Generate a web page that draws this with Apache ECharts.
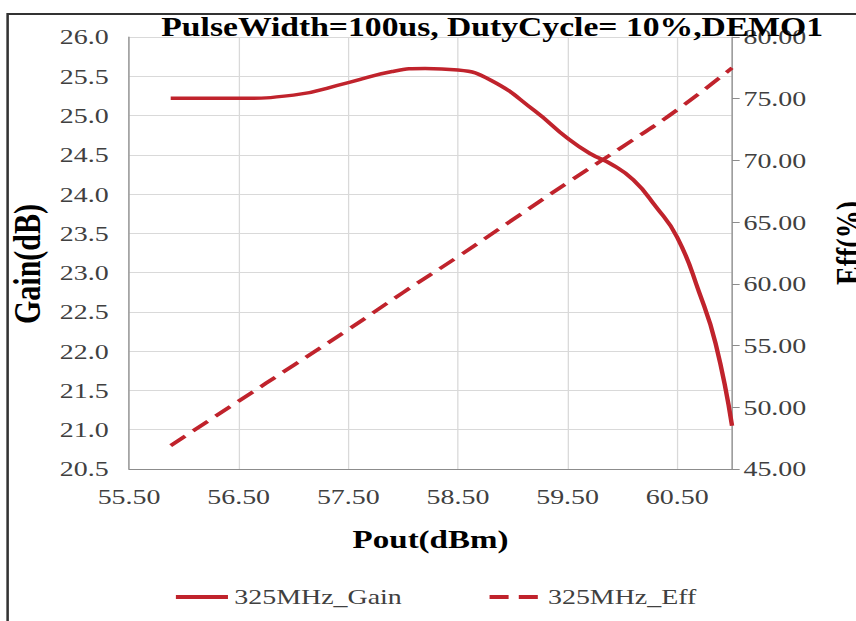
<!DOCTYPE html>
<html>
<head>
<meta charset="utf-8">
<script src="https://cdn.jsdelivr.net/npm/echarts@6/dist/echarts.min.js"></script>
<style>
  html, body { margin: 0; padding: 0; background: #fff; overflow: hidden; }
  /* the source picture is stretched sideways, so the chart is too */
  #chart { width: 674px; height: 621px; transform: scaleX(1.27); transform-origin: 0 0; }
</style>
</head>
<body>
<div id="chart"></div>
<script>
  // Pout (dBm) for each measured point
  var poutGain = [55.88, 56.5, 57.0, 57.5, 57.9, 58.2, 58.5, 58.8, 59.2, 59.5, 59.7, 59.9, 60.1, 60.3, 60.5, 60.7, 60.85, 61.0]
  var gain = [25.22, 25.22, 25.26, 25.42, 25.56, 25.60, 25.58, 25.45, 25.06, 24.71, 24.52, 24.38, 24.18, 23.85, 23.45, 22.75, 22.1, 21.05]
  var poutEff = [55.88, 56.5, 57.0, 57.5, 58.0, 58.5, 59.0, 59.5, 60.0, 60.5, 61.0]
  var eff = [46.9, 50.5, 53.4, 56.3, 59.3, 62.2, 65.2, 68.2, 71.1, 74.1, 77.5]

  var titleText = 'PulseWidth=100us, DutyCycle= 10%,DEMO1'
  var seriesNames = ['325MHz_Gain', '325MHz_Eff']

  var serif = 'Liberation Serif'
  var red = '#c0232c'

  function pairs(xs, ys) {
    return xs.map(function (x, i) { return [x, ys[i]] })
  }

  var chart = echarts.init(document.getElementById('chart'), null, { renderer: 'svg' })
  chart.setOption({
    animation: false,
    title: {
      text: titleText,
      left: 122,
      top: 9,
      textStyle: { fontFamily: serif, fontSize: 26.5, fontWeight: 'bold', color: '#000' }
    },
    legend: {
      data: seriesNames,
      left: 131.5,
      top: 581,
      itemWidth: 41,
      itemHeight: 14,
      itemGap: 67,
      itemStyle: { opacity: 0 },   // hide the dot, keep the line
      lineStyle: { width: 4 },
      textStyle: { fontFamily: serif, fontSize: 22, color: '#404040' }
    },
    grid: { left: 101.6, right: 97.6, top: 37, bottom: 152, outerBoundsMode: 'none' },
    xAxis: {
      type: 'value',
      min: 55.5,
      max: 61,
      interval: 1,
      name: 'Pout(dBm)',
      nameLocation: 'middle',
      nameGap: 57,
      nameTextStyle: { fontFamily: serif, fontSize: 26, fontWeight: 'bold', color: '#000' },
      axisLine: { lineStyle: { color: '#8c8c8c', width: 1 } },
      axisTick: { show: false },
      axisLabel: {
        margin: 17,
        showMaxLabel: false,
        fontFamily: serif, fontSize: 22, color: '#404040',
        formatter: function (v) { return v.toFixed(2) }
      },
      splitLine: { show: true, lineStyle: { color: '#d9d9d9', width: 1 } }
    },
    yAxis: [
      {
        type: 'value',
        min: 20.5,
        max: 26,
        interval: 0.5,
        name: 'Gain(dB)',
        nameLocation: 'middle',
        nameGap: 62,
        nameTextStyle: { fontFamily: serif, fontSize: 30, fontWeight: 'bold', color: '#000', padding: [0, 22, 0, 0] },
        axisLine: { show: true, lineStyle: { color: '#8c8c8c', width: 1 } },
        axisTick: { show: false },
        axisLabel: {
          margin: 16,
          fontFamily: serif, fontSize: 22, color: '#404040',
          formatter: function (v) { return v.toFixed(1) }
        },
        splitLine: { show: true, lineStyle: { color: '#d9d9d9', width: 1 } }
      },
      {
        type: 'value',
        position: 'right',
        min: 45,
        max: 80,
        interval: 5,
        name: 'Eff(%)',
        nameLocation: 'middle',
        nameRotate: 90,
        nameGap: 78,
        nameTextStyle: { fontFamily: serif, fontSize: 28, fontWeight: 'bold', color: '#000', padding: [0, 0, 0, 20] },
        axisLine: { show: true, lineStyle: { color: '#8c8c8c', width: 1 } },
        axisTick: { show: true, inside: false, length: 6, lineStyle: { color: '#8c8c8c' } },
        axisLabel: {
          margin: 9,
          fontFamily: serif, fontSize: 22, color: '#404040',
          formatter: function (v) { return v.toFixed(2) }
        },
        splitLine: { show: false }
      }
    ],
    graphic: [
      {
        type: 'rect',
        shape: { x: 6, y: 14, width: 720, height: 700 },
        style: { fill: 'none', stroke: '#333', lineWidth: 2 },
        silent: true
      }
    ],
    series: [
      {
        name: seriesNames[1],
        type: 'line',
        yAxisIndex: 1,
        data: pairs(poutEff, eff),
        smooth: true,
        symbol: 'none',
        lineStyle: { color: red, width: 3.5, type: [15, 8] },
        itemStyle: { color: red }
      },
      {
        name: seriesNames[0],
        type: 'line',
        yAxisIndex: 0,
        data: pairs(poutGain, gain),
        smooth: true,
        symbol: 'none',
        lineStyle: { color: red, width: 3.5 },
        itemStyle: { color: red }
      }
    ]
  })
</script>
</body>
</html>
